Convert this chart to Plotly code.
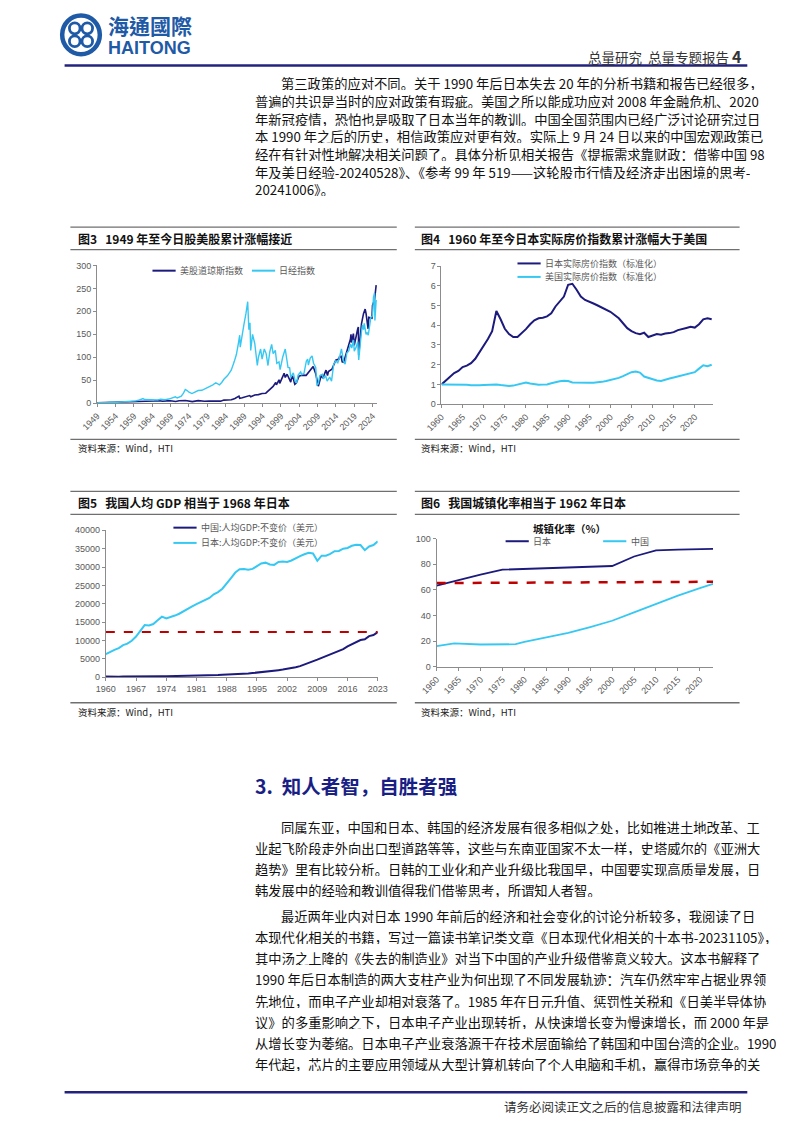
import plotly.graph_objects as go

# page is 802 x 1133; the html body keeps an 8px margin, so the figure is
# drawn 786 x 1117 and every page coordinate is shifted by that margin
PAGE_W, PAGE_H = 802, 1133
OFF = 8
W, H = PAGE_W - 2 * OFF, PAGE_H - 2 * OFF

# ---------------- data ----------------
# Figure 3: cumulative stock index gain since 1949 (1949 = 1)
stock_ticks = ["1949", "1954", "1959", "1964", "1969", "1974", "1979", "1984",
               "1989", "1994", "1999", "2004", "2009", "2014", "2019", "2024"]
nikkei_t = [1949.0, 1950.5, 1951.5, 1952.5, 1953.2, 1953.5, 1954.5, 1955.5, 1956.5, 1957.4,
            1957.9, 1958.5, 1959.5, 1960.5, 1961.5, 1961.9, 1962.5, 1963.2, 1963.9, 1964.5,
            1965.5, 1966.3, 1967.5, 1968.5, 1969.5, 1970.3, 1970.8, 1971.5, 1971.9, 1972.5,
            1973.0, 1973.5, 1974.0, 1974.8, 1975.5, 1976.5, 1977.5, 1978.5, 1979.5, 1980.5,
            1981.3, 1982.3, 1982.9, 1983.5, 1984.5, 1985.5, 1986.3, 1986.9, 1987.4, 1987.8,
            1987.95, 1988.5, 1988.95, 1989.5, 1989.98, 1990.3, 1990.6, 1990.8, 1991.3, 1991.9,
            1992.6, 1992.9, 1993.5, 1993.9, 1994.5, 1995.0, 1995.5, 1996.0, 1996.5, 1996.9,
            1997.5, 1997.9, 1998.5, 1998.8, 1999.5, 2000.2, 2000.6, 2000.95, 2001.4, 2001.7,
            2002.4, 2002.9, 2003.3, 2003.7, 2004.4, 2004.7, 2005.3, 2005.95, 2006.3, 2006.5,
            2007.0, 2007.5, 2007.9, 2008.5, 2008.8, 2009.2, 2009.6, 2010.3, 2010.6, 2011.2,
            2011.6, 2012.3, 2012.8, 2013.4, 2013.95, 2014.5, 2014.95, 2015.5, 2016.1, 2016.5,
            2016.95, 2017.5, 2017.95, 2018.3, 2018.8, 2018.98, 2019.5, 2019.95, 2020.2, 2020.5,
            2020.95, 2021.2, 2021.5, 2021.7, 2022.2, 2022.5, 2022.8, 2023.5, 2023.95, 2024.2,
            2024.5, 2024.6, 2024.8, 2024.95]
nikkei_v = [1.0, 0.6, 1.0, 2.0, 2.6, 1.9, 1.9, 2.3, 2.8, 3.2,
            2.8, 3.5, 5.0, 6.9, 10.0, 8.0, 7.7, 8.3, 7.0, 7.3,
            6.9, 8.4, 7.5, 9.0, 11.8, 13.8, 11.3, 14.0, 15.4, 22.0,
            30.0, 27.5, 24.0, 21.0, 23.5, 27.5, 28.0, 32.0, 35.0, 40.0,
            44.5, 40.0, 45.0, 52.0, 60.0, 72.0, 90.0, 106.0, 128.0, 148.0,
            122.0, 155.0, 171.0, 195.0, 221.0, 160.0, 175.0, 115.0, 150.0, 130.0,
            82.0, 100.0, 118.0, 96.0, 118.0, 108.0, 82.0, 112.0, 128.0, 108.0,
            115.0, 87.0, 90.0, 73.0, 100.0, 118.0, 90.0, 78.0, 77.0, 56.0,
            66.0, 48.0, 44.0, 61.0, 68.0, 62.0, 65.0, 92.0, 96.0, 83.0,
            98.0, 103.0, 87.0, 78.0, 40.0, 42.0, 60.0, 63.0, 53.0, 60.0,
            48.0, 57.0, 48.0, 85.0, 92.0, 88.0, 99.0, 118.0, 90.0, 85.0,
            109.0, 114.0, 129.0, 120.0, 138.0, 113.0, 122.0, 134.0, 94.0, 127.0,
            156.0, 170.0, 160.0, 174.0, 150.0, 153.0, 148.0, 187.0, 190.0, 230.0,
            240.0, 180.0, 222.0, 225.0]
dow_t = [1949.0, 1950.5, 1951.5, 1952.5, 1953.5, 1954.5, 1955.5, 1956.5, 1957.8, 1958.5,
         1959.5, 1960.5, 1961.9, 1962.5, 1963.5, 1964.5, 1965.9, 1966.8, 1967.9, 1968.9,
         1970.4, 1971.3, 1973.0, 1974.9, 1976.5, 1978.2, 1979.5, 1980.3, 1981.5, 1982.6,
         1983.5, 1984.5, 1985.5, 1985.95, 1986.5, 1987.6, 1987.8, 1988.5, 1989.7, 1990.5,
         1990.8, 1991.9, 1992.9, 1993.9, 1994.9, 1995.9, 1996.9, 1997.6, 1997.8, 1998.5,
         1998.7, 1999.9, 2000.2, 2000.7, 2001.7, 2001.95, 2002.2, 2002.8, 2003.2, 2003.95,
         2004.9, 2005.9, 2006.9, 2007.8, 2008.5, 2008.9, 2009.2, 2009.95, 2010.5, 2010.95,
         2011.3, 2011.7, 2011.95, 2012.9, 2013.95, 2014.8, 2014.95, 2015.4, 2015.7, 2016.1,
         2016.95, 2017.95, 2018.1, 2018.2, 2018.75, 2018.98, 2019.9, 2020.1, 2020.2, 2020.95,
         2021.5, 2021.95, 2022.2, 2022.5, 2022.75, 2022.95, 2023.8, 2023.95, 2024.5, 2024.9,
         2024.95]
dow_v = [1.0, 1.25, 1.45, 1.5, 1.5, 1.9, 2.5, 2.8, 2.4, 2.6,
         3.6, 3.5, 4.1, 3.2, 4.0, 4.7, 5.5, 4.3, 5.0, 5.3,
         3.8, 5.3, 5.9, 3.3, 5.6, 4.2, 4.8, 4.5, 5.3, 4.4,
         6.7, 6.3, 7.3, 8.7, 10.3, 15.4, 10.7, 11.9, 15.3, 16.6,
         13.8, 17.9, 18.6, 21.2, 21.7, 28.9, 36.4, 45.0, 40.0, 51.0,
         43.0, 65.0, 56.0, 63.0, 46.0, 56.6, 59.0, 41.0, 44.0, 59.0,
         61.0, 60.6, 70.4, 80.0, 64.0, 45.0, 37.0, 59.0, 55.0, 65.0,
         72.0, 60.0, 69.0, 74.0, 93.7, 96.0, 100.7, 102.0, 90.0, 89.0,
         111.7, 139.7, 150.0, 132.0, 151.6, 126.0, 161.0, 166.0, 105.0, 173.0,
         195.0, 205.0, 195.0, 170.0, 162.0, 187.0, 185.0, 213.0, 225.0, 254.0,
         257.0]

# Figure 4: real house price index (normalised, 1960 = 1)
house_ticks = ["1960", "1965", "1970", "1975", "1980", "1985", "1990", "1995",
               "2000", "2005", "2010", "2015", "2020"]
house_years = [1960, 1961, 1962, 1963, 1964, 1965, 1966, 1967, 1968, 1969,
               1970, 1971, 1972, 1973, 1974, 1975, 1976, 1977, 1978, 1979,
               1980, 1981, 1982, 1983, 1984, 1985, 1986, 1987, 1988, 1989,
               1990, 1991, 1992, 1993, 1994, 1995, 1996, 1997, 1998, 1999,
               2000, 2001, 2002, 2003, 2004, 2005, 2006, 2007, 2008, 2009,
               2010, 2011, 2012, 2013, 2014, 2015, 2016, 2017, 2018, 2019,
               2020, 2021, 2022, 2023, 2024]
japan_house = [1.00, 1.20, 1.42, 1.58, 1.68, 1.88, 1.95, 2.08, 2.30, 2.62,
               3.00, 3.30, 3.70, 4.72, 4.30, 3.82, 3.55, 3.40, 3.40, 3.58,
               3.80, 4.05, 4.25, 4.35, 4.38, 4.45, 4.60, 4.95, 5.20, 5.45,
               6.05, 6.10, 5.80, 5.45, 5.28, 5.20, 5.10, 5.00, 4.90, 4.82,
               4.68, 4.52, 4.35, 4.10, 3.85, 3.70, 3.60, 3.55, 3.62, 3.40,
               3.48, 3.55, 3.52, 3.58, 3.60, 3.65, 3.75, 3.82, 3.86, 3.92,
               3.88, 4.05, 4.30, 4.35, 4.30]
us_house = [1.00, 1.00, 0.99, 0.99, 0.99, 0.99, 0.98, 0.96, 0.95, 0.96,
            0.97, 0.98, 0.99, 1.00, 0.97, 0.93, 0.92, 0.94, 1.00, 1.07,
            1.10, 1.05, 1.00, 0.98, 0.99, 1.00, 1.06, 1.12, 1.16, 1.18,
            1.17, 1.10, 1.09, 1.09, 1.09, 1.09, 1.09, 1.10, 1.13, 1.17,
            1.22, 1.27, 1.33, 1.42, 1.52, 1.62, 1.65, 1.60, 1.40, 1.33,
            1.30, 1.20, 1.18, 1.25, 1.30, 1.35, 1.41, 1.47, 1.52, 1.56,
            1.62, 1.80, 1.97, 1.92, 2.00]

# Figure 5: GDP per capita, constant USD
gdp_ticks = ["1960", "1967", "1974", "1981", "1988", "1995", "2002", "2009", "2016", "2023"]
gdp_years = [1960, 1961, 1962, 1963, 1964, 1965, 1966, 1967, 1968, 1969,
             1970, 1971, 1972, 1973, 1974, 1975, 1976, 1977, 1978, 1979,
             1980, 1981, 1982, 1983, 1984, 1985, 1986, 1987, 1988, 1989,
             1990, 1991, 1992, 1993, 1994, 1995, 1996, 1997, 1998, 1999,
             2000, 2001, 2002, 2003, 2004, 2005, 2006, 2007, 2008, 2009,
             2010, 2011, 2012, 2013, 2014, 2015, 2016, 2017, 2018, 2019,
             2020, 2021, 2022, 2023]
china_gdp = [240, 175, 165, 180, 205, 235, 255, 235, 220, 255,
             270, 280, 285, 295, 300, 310, 305, 320, 340, 350,
             360, 375, 400, 440, 500, 560, 610, 670, 720, 740,
             760, 830, 940, 1050, 1160, 1260, 1380, 1500, 1610, 1730,
             1950, 2100, 2280, 2500, 2750, 3050, 3450, 3950, 4350, 4800,
             5300, 5800, 6250, 6700, 7150, 7650, 8400, 9050, 9600, 10150,
             10350, 11200, 11500, 12300]
japan_gdp = [6300, 6950, 7450, 7950, 8750, 9150, 9950, 11100, 12600, 14200,
             14100, 14500, 15500, 16500, 16000, 16300, 16800, 17300, 18000, 18800,
             19300, 19900, 20400, 20900, 21600, 22600, 23200, 24100, 25700, 27000,
             28500, 29400, 29500, 29300, 29500, 30200, 31000, 31200, 30700, 30600,
             31400, 31500, 31400, 31800, 32500, 33000, 33500, 33900, 33700, 31700,
             33100, 33100, 33600, 34300, 34400, 35000, 35200, 35800, 36100, 36000,
             34600, 35600, 36000, 37000]

# Figure 6: urbanisation rate (%)
urban_ticks = ["1960", "1965", "1970", "1975", "1980", "1985", "1990", "1995",
               "2000", "2005", "2010", "2015", "2020"]
japan_urban_years = [1960, 1965, 1970, 1975, 1980, 1985, 1990, 1995, 2000, 2005, 2010, 2015, 2020, 2023]
japan_urban = [63.3, 67.9, 71.9, 75.7, 76.2, 76.7, 77.3, 78.0, 78.6, 86.0, 90.8, 91.4, 91.8, 92.0]
china_urban_years = [1960, 1964, 1970, 1975, 1978, 1980, 1985, 1990, 1995, 2000, 2005, 2010, 2015, 2020, 2023]
china_urban = [16.2, 18.2, 17.4, 17.3, 17.6, 19.4, 22.9, 26.4, 31.0, 35.9, 42.5, 49.2, 55.5, 61.4, 64.6]
urban_ref_years = [1960, 2023]
urban_ref = [65.3, 66.3]

# ---------------- text ----------------
para1 = [
    "第三政策的应对不同。关于 1990 年后日本失去 20 年的分析书籍和报告已经很多，",
    "普遍的共识是当时的应对政策有瑕疵。美国之所以能成功应对 2008 年金融危机、2020",
    "年新冠疫情，恐怕也是吸取了日本当年的教训。中国全国范围内已经广泛讨论研究过日",
    "本 1990 年之后的历史，相信政策应对更有效。实际上 9 月 24 日以来的中国宏观政策已",
    "经在有针对性地解决相关问题了。具体分析见相关报告《提振需求靠财政：借鉴中国 98",
    "年及美日经验-20240528》、《参考 99 年 519——这轮股市行情及经济走出困境的思考-",
    "20241006》。",
]
heading = "3.  知人者智，自胜者强"
para2 = [
    "同属东亚，中国和日本、韩国的经济发展有很多相似之处，比如推进土地改革、工",
    "业起飞阶段走外向出口型道路等等，这些与东南亚国家不太一样，史塔威尔的《亚洲大",
    "趋势》里有比较分析。日韩的工业化和产业升级比我国早，中国要实现高质量发展，日",
    "韩发展中的经验和教训值得我们借鉴思考，所谓知人者智。",
]
para3 = [
    "最近两年业内对日本 1990 年前后的经济和社会变化的讨论分析较多，我阅读了日",
    "本现代化相关的书籍，写过一篇读书笔记类文章《日本现代化相关的十本书-20231105》，",
    "其中汤之上隆的《失去的制造业》对当下中国的产业升级借鉴意义较大。这本书解释了",
    "1990 年后日本制造的两大支柱产业为何出现了不同发展轨迹：汽车仍然牢牢占据业界领",
    "先地位，而电子产业却相对衰落了。1985 年在日元升值、惩罚性关税和《日美半导体协",
    "议》的多重影响之下，日本电子产业出现转折，从快速增长变为慢速增长，而 2000 年是",
    "从增长变为萎缩。日本电子产业衰落源于在技术层面输给了韩国和中国台湾的企业。1990",
    "年代起，芯片的主要应用领域从大型计算机转向了个人电脑和手机，赢得市场竞争的关",
]

# ---------------- style ----------------
NAVY = "#1c1a7c"
CYAN = "#36c8f2"
RED = "#c00000"
GRAY = "#595959"
AXC = "#8c8c8c"
RULE = "#6f6f6f"
BLUE_RULE = "#23237f"
LOGO = "#1f5aa6"
CJK = "Noto Sans CJK SC"
LAT = "Liberation Sans"
TOP_GAP = 17.8
LINE_GAP = 21.4


def X(px):
    return (px - OFF) / W


def Y(py):
    return 1 - (py - OFF) / H


fig = go.Figure()

# Figure 3 traces
fig.add_trace(go.Scatter(x=dow_t, y=dow_v, mode="lines", line=dict(color=NAVY, width=1.6),
                         xaxis="x", yaxis="y", hoverinfo="skip"))
fig.add_trace(go.Scatter(x=nikkei_t, y=nikkei_v, mode="lines", line=dict(color=CYAN, width=1.4),
                         xaxis="x", yaxis="y", hoverinfo="skip"))
# Figure 4 traces
fig.add_trace(go.Scatter(x=house_years, y=japan_house, mode="lines", line=dict(color=NAVY, width=2),
                         xaxis="x2", yaxis="y2", hoverinfo="skip"))
fig.add_trace(go.Scatter(x=house_years, y=us_house, mode="lines", line=dict(color=CYAN, width=2),
                         xaxis="x2", yaxis="y2", hoverinfo="skip"))
# Figure 5 traces
fig.add_trace(go.Scatter(x=gdp_years, y=china_gdp, mode="lines", line=dict(color=NAVY, width=2),
                         xaxis="x3", yaxis="y3", hoverinfo="skip"))
fig.add_trace(go.Scatter(x=gdp_years, y=japan_gdp, mode="lines", line=dict(color=CYAN, width=2),
                         xaxis="x3", yaxis="y3", hoverinfo="skip"))
fig.add_trace(go.Scatter(x=[gdp_years[0], gdp_years[-1]], y=[china_gdp[-1], china_gdp[-1]], mode="lines",
                         line=dict(color=RED, width=2, dash="dash"),
                         xaxis="x3", yaxis="y3", hoverinfo="skip"))
# Figure 6 traces
fig.add_trace(go.Scatter(x=japan_urban_years, y=japan_urban, mode="lines", line=dict(color=NAVY, width=1.8),
                         xaxis="x4", yaxis="y4", hoverinfo="skip"))
fig.add_trace(go.Scatter(x=china_urban_years, y=china_urban, mode="lines", line=dict(color=CYAN, width=1.8),
                         xaxis="x4", yaxis="y4", hoverinfo="skip"))
fig.add_trace(go.Scatter(x=urban_ref_years, y=urban_ref, mode="lines",
                         line=dict(color=RED, width=2.5, dash="dash"),
                         xaxis="x4", yaxis="y4", hoverinfo="skip"))


def axis(x0, x1, rng, **kw):
    d = dict(domain=[x0, x1], range=rng, showgrid=False, zeroline=False, showline=True,
             linecolor=AXC, linewidth=1, ticks="outside", ticklen=3, tickcolor=AXC,
             tickfont=dict(family=LAT, size=9, color=GRAY), fixedrange=True)
    d.update(kw)
    return d


def yr(ticks):
    return dict(tickmode="array", tickvals=[int(t) for t in ticks], ticktext=ticks)


fig.update_layout(
    width=W, height=H, margin=dict(l=0, r=0, t=0, b=0),
    paper_bgcolor="white", plot_bgcolor="white", showlegend=False,
    xaxis=axis(X(82.7), X(373), [1949, 2025.3], anchor="y", tickangle=-45, **yr(stock_ticks)),
    yaxis=axis(Y(401.7), Y(262.7), [0, 300], anchor="x", dtick=50),
    xaxis2=axis(X(439.3), X(720), [1960, 2024.2], anchor="y2", tickangle=-45, **yr(house_ticks)),
    yaxis2=axis(Y(402.7), Y(263.3), [0, 7], anchor="x2", dtick=1),
    xaxis3=axis(X(91.7), X(373.3), [1960, 2023], anchor="y3", tickangle=0, **yr(gdp_ticks)),
    yaxis3=axis(Y(678.3), Y(530), [0, 40000], anchor="x3", dtick=5000, tickformat="d"),
    xaxis4=axis(X(434.3), X(720.5), [1960, 2023], anchor="y4", tickangle=-45, **yr(urban_ticks)),
    yaxis4=axis(Y(667.7), Y(538.3), [0, 100], anchor="x4", dtick=20),
)

shapes = []
annotations = []


def hline(x0, x1, y, color, width):
    shapes.append(dict(type="line", xref="paper", yref="paper", x0=X(x0), x1=X(x1), y0=Y(y), y1=Y(y),
                       line=dict(color=color, width=width)))


def text(x, y, s, size, color="#111111", family=CJK, xanchor="left", box=None):
    a = dict(xref="paper", yref="paper", x=X(x), y=Y(y), text=s, showarrow=False,
             xanchor=xanchor, yanchor="middle", align=xanchor, borderpad=0,
             font=dict(family=family, size=size, color=color))
    if box:
        a["height"] = box
    annotations.append(a)


# header logo
shapes.append(dict(type="circle", xref="paper", yref="paper", x0=X(46.5), x1=X(85.5), y0=Y(49.5), y1=Y(10.5),
                   line=dict(color=LOGO, width=4.5), fillcolor="white"))
for dx, dy in [(-6.5, -6.5), (6.5, -6.5), (-6.5, 6.5), (6.5, 6.5)]:
    cx, cy = 66 + dx, 30 + dy
    shapes.append(dict(type="circle", xref="paper", yref="paper", x0=X(cx - 5.5), x1=X(cx + 5.5),
                       y0=Y(cy + 5.5), y1=Y(cy - 5.5), line=dict(color=LOGO, width=2.8)))
text(93, 20, "<b>海通國際</b>", 21, LOGO, "Noto Sans CJK TC")
text(93, 43, "<b>HAITONG</b>", 18, LOGO, LAT)
text(752, 51, "总量研究  总量专题报告 <b><span style='font-size:16px'>4</span></b>", 13.5, "#333333",
     xanchor="right")
hline(49, 756, 61, BLUE_RULE, 2.5)

# paragraph 1
for i, s in enumerate(para1):
    text(272 if i == 0 else 245, 79 + i * TOP_GAP, s, 13.3, box=14)

# chart frames
for (lx, rx, top, title_y, under, bottom, src_y, tx, title) in [
    (55, 393, 224, 236, 246.7, 438.3, 446.7, 62, "<b>图3   1949 年至今日股美股累计涨幅接近</b>"),
    (411.7, 748, 224, 236, 246.7, 438.3, 446.7, 416.7, "<b>图4   1960 年至今日本实际房价指数累计涨幅大于美国</b>"),
    (55, 393, 490.7, 502.3, 514, 704, 713, 62, "<b>图5   我国人均 GDP 相当于 1968 年日本</b>"),
    (411.7, 748, 490.7, 502.3, 514, 704, 713, 416.7, "<b>图6   我国城镇化率相当于 1962 年日本</b>"),
]:
    hline(lx, rx, top, RULE, 1.3)
    hline(lx, rx, under, RULE, 1.3)
    hline(lx, rx, bottom, RULE, 1.3)
    text(tx, title_y, title, 12, "#111111")
    text(tx, src_y, "资料来源：Wind，HTI", 9.5, "#222222")


# legends
def legend_item(x0, y, color, label):
    shapes.append(dict(type="line", xref="paper", yref="paper", x0=X(x0), x1=X(x0 + 24), y0=Y(y), y1=Y(y),
                       line=dict(color=color, width=2)))
    text(x0 + 27.5, y, label, 9, GRAY)


legend_item(140, 268, NAVY, "美股道琼斯指数")
legend_item(243, 268, CYAN, "日经指数")
legend_item(518, 260.7, NAVY, "日本实际房价指数（标准化）")
legend_item(518, 274.3, CYAN, "美国实际房价指数（标准化）")
legend_item(161.7, 527.3, NAVY, "中国:人均GDP:不变价（美元）")
legend_item(161.7, 542.7, CYAN, "日本:人均GDP:不变价（美元）")
legend_item(505.7, 541, NAVY, "日本")
legend_item(606.7, 541, CYAN, "中国")
text(571.7, 528, "<b>城镇化率（%）</b>", 10.5, "#111111", xanchor="center", box=11)

# section 3
text(245, 787, "<b>" + heading + "</b>", 19.5, "#1a1f86")
for i, s in enumerate(para2):
    text(272 if i == 0 else 245, 829 + i * LINE_GAP, s, 13.3, box=14)
for i, s in enumerate(para3):
    text(272 if i == 0 else 245, 919 + i * LINE_GAP, s, 13.3, box=14)

# footer
hline(49, 756, 1097, BLUE_RULE, 2.5)
text(752, 1111, "请务必阅读正文之后的信息披露和法律声明", 12.5, "#333333", xanchor="right")

fig.update_layout(shapes=shapes, annotations=annotations)
fig.write_html("out.html")
